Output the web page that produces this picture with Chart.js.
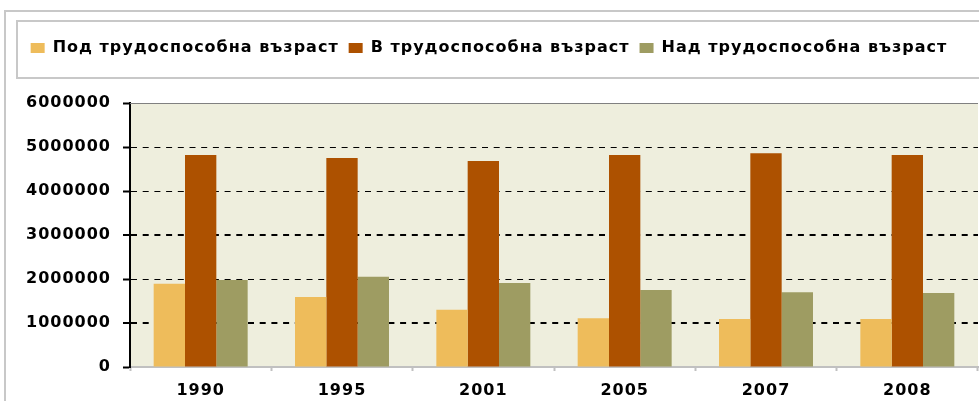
<!DOCTYPE html>
<html>
<head>
<meta charset="utf-8">
<script src="https://cdn.jsdelivr.net/npm/chart.js@4"></script>
<style>
  html, body { margin: 0; padding: 0; background: #fff; }
  #wrap { width: 979px; height: 401px; position: relative; }
</style>
</head>
<body>
<div id="wrap"><canvas id="chart" width="979" height="401"></canvas></div>
<script>
const years = ['1990', '1995', '2001', '2005', '2007', '2008'];
const underAge = [1890000, 1590000, 1300000, 1110000, 1090000, 1090000];
const workingAge = [4820000, 4750000, 4680000, 4820000, 4860000, 4820000];
const overAge = [1980000, 2050000, 1910000, 1750000, 1700000, 1680000];
const seriesNames = ['Под трудоспособна възраст', 'В трудоспособна възраст', 'Над трудоспособна възраст'];
const seriesColors = ['#eebc5b', '#ad5100', '#9e9c62'];

const tickFont = { family: 'DejaVu Sans', size: 16, weight: 'bold' };

// малко по-разреден текст, както в оригинала
const spacingPlugin = {
  id: 'spacing',
  beforeLayout(chart) { chart.ctx.letterSpacing = '1px'; },
  beforeDraw(chart) { chart.ctx.letterSpacing = '1px'; }
};

// рамки, фон на графиката и горна линия
const framePlugin = {
  id: 'frame',
  beforeDraw(chart) {
    const { ctx, chartArea: a, legend } = chart;
    ctx.save();
    ctx.fillStyle = '#eeeedd';
    ctx.fillRect(a.left, a.top, a.right - a.left, a.bottom - a.top);
    ctx.strokeStyle = '#c8c8c8';
    ctx.lineWidth = 2;
    ctx.beginPath();
    ctx.moveTo(5, chart.height);
    ctx.lineTo(5, 11);
    ctx.lineTo(chart.width + 5, 11);
    ctx.stroke();
    ctx.strokeRect(17, legend.top - 9, chart.width, legend.bottom - legend.top + 21);
    ctx.restore();
  },
  afterDatasetsDraw(chart) {
    const { ctx, chartArea: a } = chart;
    ctx.save();
    ctx.strokeStyle = '#808080';
    ctx.lineWidth = 1;
    ctx.beginPath();
    ctx.moveTo(a.left, a.top + 0.5);
    ctx.lineTo(a.right, a.top + 0.5);
    ctx.stroke();
    ctx.restore();
  }
};

new Chart(document.getElementById('chart'), {
  type: 'bar',
  data: {
    labels: years,
    datasets: [
      { label: seriesNames[0], data: underAge, backgroundColor: seriesColors[0] },
      { label: seriesNames[1], data: workingAge, backgroundColor: seriesColors[1] },
      { label: seriesNames[2], data: overAge, backgroundColor: seriesColors[2] }
    ]
  },
  options: {
    responsive: false,
    animation: false,
    layout: { padding: { top: 30, left: 0, right: 1, bottom: 0 } },
    datasets: { bar: { categoryPercentage: 0.665, barPercentage: 1 } },
    plugins: {
      legend: {
        position: 'top',
        labels: {
          boxWidth: 14,
          boxHeight: 10,
          padding: 10,
          color: '#000',
          font: tickFont
        }
      },
      title: {
        display: true,
        text: '',
        weight: 500,
        font: { size: 1, lineHeight: 1 },
        padding: { top: 0, bottom: 36 }
      },
      tooltip: { enabled: false }
    },
    scales: {
      x: {
        afterFit(s) { s.height = 34; },
        grid: {
          drawOnChartArea: false,
          tickColor: '#c0c0c0',
          tickLength: 4,
          tickWidth: 2
        },
        border: { color: '#c0c0c0', width: 2 },
        ticks: { color: '#000', font: tickFont, padding: 10 }
      },
      y: {
        min: 0,
        max: 6000000,
        afterFit(s) { s.width = 130; },
        grid: {
          color: ctx => (ctx.tick && ctx.tick.value > 0 && ctx.tick.value < 6000000) ? '#000' : 'rgba(0,0,0,0)',
          lineWidth: ctx => (ctx.tick && (ctx.tick.value === 1000000 || ctx.tick.value === 3000000)) ? 2 : 1,
          tickColor: '#000',
          tickLength: 7,
          tickWidth: 2
        },
        border: { color: '#000', width: 2, dash: [6, 5.7] },
        ticks: {
          stepSize: 1000000,
          color: '#000',
          font: tickFont,
          padding: 12,
          callback: v => String(v)
        }
      }
    }
  },
  plugins: [spacingPlugin, framePlugin]
});
</script>
</body>
</html>
